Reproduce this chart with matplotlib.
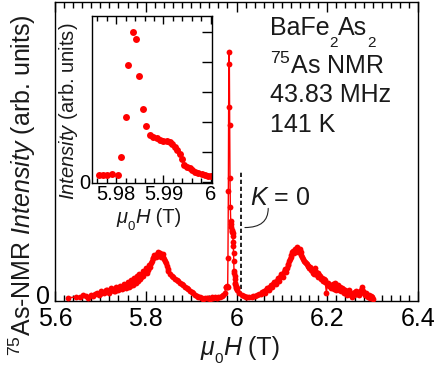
import numpy as np
import matplotlib
matplotlib.use('Agg')
import matplotlib.pyplot as plt
from matplotlib.ticker import MultipleLocator, FixedLocator
from matplotlib.transforms import offset_copy, ScaledTranslation

# ── data ──────────────────────────────────────────────────────────────────────
# wide sweep, low-field side of the central line
field_low = [5.629, 5.647, 5.655, 5.662, 5.668, 5.673, 5.679, 5.684, 5.688, 5.692,
             5.696, 5.699, 5.702, 5.704, 5.707, 5.710, 5.713, 5.715, 5.718, 5.721,
             5.724, 5.726, 5.729, 5.732, 5.734, 5.736, 5.739, 5.741, 5.743, 5.745,
             5.748, 5.750, 5.752, 5.754, 5.756, 5.758, 5.760, 5.762, 5.764, 5.766,
             5.768, 5.770, 5.772, 5.773, 5.775, 5.777, 5.779, 5.780, 5.782, 5.784,
             5.786, 5.787, 5.789, 5.791, 5.793, 5.794, 5.796, 5.798, 5.800, 5.802,
             5.804, 5.806, 5.808, 5.809, 5.811, 5.813, 5.815, 5.817, 5.819, 5.820,
             5.822, 5.824, 5.826, 5.828, 5.830, 5.831, 5.833, 5.835, 5.837, 5.839,
             5.841, 5.842, 5.844, 5.846, 5.848, 5.850, 5.853, 5.857, 5.861, 5.865,
             5.868, 5.872, 5.875, 5.879, 5.883, 5.887, 5.890, 5.894, 5.897, 5.901,
             5.905, 5.909, 5.912, 5.916, 5.919, 5.923, 5.927, 5.931, 5.934, 5.938,
             5.941, 5.945, 5.949, 5.953, 5.956, 5.960, 5.963, 5.967, 5.971, 5.974]
intensity_low = [0.000, 0.004, 0.003, 0.012, 0.006, 0.000, 0.010, 0.008, 0.016, 0.020,
                 0.012, 0.015, 0.026, 0.024, 0.018, 0.022, 0.032, 0.030, 0.021, 0.026,
                 0.038, 0.036, 0.027, 0.029, 0.045, 0.040, 0.030, 0.034, 0.050, 0.046,
                 0.035, 0.038, 0.056, 0.050, 0.040, 0.044, 0.064, 0.058, 0.046, 0.050,
                 0.072, 0.066, 0.052, 0.058, 0.082, 0.075, 0.062, 0.090, 0.070, 0.082,
                 0.098, 0.076, 0.085, 0.095, 0.110, 0.088, 0.100, 0.108, 0.120, 0.100,
                 0.112, 0.118, 0.135, 0.125, 0.142, 0.150, 0.160, 0.163, 0.176, 0.172,
                 0.168, 0.178, 0.186, 0.170, 0.176, 0.182, 0.168, 0.175, 0.178, 0.166,
                 0.158, 0.150, 0.140, 0.128, 0.118, 0.110, 0.098, 0.090, 0.084, 0.078,
                 0.072, 0.068, 0.062, 0.056, 0.052, 0.046, 0.040, 0.034, 0.029, 0.024,
                 0.018, 0.013, 0.008, 0.005, 0.002, 0.000, -0.003, 0.001, -0.002, 0.000,
                 -0.003, 0.002, -0.002, 0.003, 0.001, 0.004, 0.005, 0.008, 0.012, 0.020]

# fine sweep around the central line (also shown in the inset)
field_fine = [5.9763, 5.9773, 5.9780, 5.9791, 5.9805, 5.9811, 5.9820, 5.9826, 5.9835,
              5.9842, 5.9849, 5.9856, 5.9864, 5.9872, 5.9879, 5.9886, 5.9893, 5.9900,
              5.9907, 5.9914, 5.9919, 5.9925, 5.9928, 5.9934, 5.9939, 5.9944, 5.9950,
              5.9956, 5.9961, 5.9967, 5.9974, 5.9981, 5.9988, 5.9995, 6.0000]
intensity_fine = [0.044, 0.044, 0.046, 0.048, 0.044, 0.162, 0.433, 0.778, 1.000,
                  0.951, 0.704, 0.487, 0.369, 0.311, 0.300, 0.289, 0.278, 0.273,
                  0.269, 0.264, 0.251, 0.229, 0.211, 0.184, 0.149, 0.111, 0.100,
                  0.089, 0.078, 0.062, 0.056, 0.049, 0.044, 0.040, 0.038]

# wide sweep, high-field side
field_high = [6.0016, 6.006, 6.011, 6.016, 6.020, 6.024, 6.028, 6.033, 6.037, 6.041,
              6.045, 6.049, 6.053, 6.057, 6.061, 6.063, 6.065, 6.067, 6.069, 6.071,
              6.073, 6.075, 6.077, 6.079, 6.081, 6.083, 6.085, 6.087, 6.089, 6.091,
              6.092, 6.094, 6.096, 6.098, 6.100, 6.102, 6.104, 6.106, 6.107, 6.109,
              6.111, 6.113, 6.114, 6.116, 6.118, 6.120, 6.121, 6.123, 6.125, 6.127,
              6.129, 6.131, 6.132, 6.134, 6.136, 6.138, 6.140, 6.141, 6.143, 6.145,
              6.147, 6.149, 6.151, 6.153, 6.155, 6.157, 6.158, 6.160, 6.162, 6.164,
              6.166, 6.168, 6.169, 6.171, 6.173, 6.175, 6.177, 6.179, 6.180, 6.182,
              6.184, 6.186, 6.188, 6.190, 6.192, 6.194, 6.195, 6.198, 6.200, 6.202,
              6.204, 6.206, 6.208, 6.210, 6.213, 6.215, 6.217, 6.220, 6.222, 6.224,
              6.226, 6.228, 6.230, 6.232, 6.235, 6.237, 6.239, 6.241, 6.243, 6.246,
              6.248, 6.250, 6.252, 6.254, 6.257, 6.259, 6.261, 6.264, 6.266, 6.268,
              6.270, 6.272, 6.274, 6.276, 6.279, 6.281, 6.283, 6.285, 6.287, 6.290,
              6.292, 6.294, 6.296, 6.298, 6.301]
intensity_high = [0.033, 0.019, 0.012, 0.006, 0.004, 0.002, 0.004, 0.005, 0.007, 0.009,
                  0.011, 0.014, 0.017, 0.022, 0.027, 0.020, 0.033, 0.040, 0.038, 0.030,
                  0.043, 0.052, 0.050, 0.042, 0.055, 0.066, 0.063, 0.055, 0.070, 0.082,
                  0.078, 0.070, 0.084, 0.098, 0.094, 0.086, 0.104, 0.118, 0.113, 0.105,
                  0.121, 0.132, 0.138, 0.150, 0.158, 0.168, 0.176, 0.185, 0.190, 0.182,
                  0.200, 0.192, 0.196, 0.205, 0.187, 0.193, 0.198, 0.185, 0.176, 0.166,
                  0.158, 0.150, 0.146, 0.140, 0.137, 0.128, 0.130, 0.120, 0.124, 0.112,
                  0.114, 0.100, 0.106, 0.098, 0.120, 0.104, 0.094, 0.086, 0.100, 0.092,
                  0.088, 0.078, 0.082, 0.070, 0.076, 0.066, 0.072, 0.019, 0.058, 0.062,
                  0.048, 0.052, 0.040, 0.046, 0.055, 0.036, 0.060, 0.033, 0.045, 0.053,
                  0.030, 0.044, 0.028, 0.039, 0.035, 0.020, 0.030, 0.024, 0.012, 0.022,
                  0.030, 0.015, 0.010, 0.005, 0.019, 0.012, 0.024, 0.026, 0.015, 0.022,
                  0.010, 0.019, 0.030, 0.046, 0.026, 0.018, 0.012, 0.020, 0.008, 0.005,
                  0.012, 0.000, 0.008, 0.005, -0.004]

K_ZERO_FIELD = 6.0108   # 43.83 MHz / 75As gamma

RED = '#FF0000'
INK = '#1A1A1A'

plt.rcParams.update({
    'font.family': 'Liberation Sans',
    'mathtext.fontset': 'custom',
    'mathtext.rm': 'Liberation Sans',
    'mathtext.it': 'Liberation Sans:italic',
    'mathtext.bf': 'Liberation Sans:bold',
    'font.size': 18,
    'axes.linewidth': 1.0,
    'text.color': INK,
})

fig = plt.figure(figsize=(4.36, 3.65), dpi=100)
renderer = fig.canvas.get_renderer()


def rich_text(ax, x, y, pieces, ha='left'):
    """Draw (text, size, dy_pt, style) pieces side by side, baseline at (x, y) in axes coords.
    Lets subscripts sit lower than mathtext puts them."""
    widths = []
    for s, size, dy, style in pieces:
        t = ax.text(0, 0, s, fontsize=size, style=style, transform=ax.transAxes)
        widths.append(t.get_window_extent(renderer).width)
        t.remove()
    off = -sum(widths) / 2 if ha == 'center' else 0.0
    for (s, size, dy, style), w in zip(pieces, widths):
        tr = offset_copy(ax.transAxes, fig=fig, x=off * 72 / fig.dpi, y=dy, units='points')
        ax.text(x, y, s, fontsize=size, style=style, transform=tr,
                ha='left', va='baseline')
        off += w


ax = fig.add_axes([0.126, 0.174, 0.833, 0.8205])

field_all = field_low + field_fine + field_high
intensity_all = intensity_low + intensity_fine + intensity_high
ax.plot(field_all, intensity_all, '-o', color=RED, lw=1.0, ms=4.2, mew=0, zorder=3)

ax.plot([K_ZERO_FIELD, K_ZERO_FIELD], [-0.02, 0.52], color='#222222', lw=1.4,
        ls=(0, (2.2, 1.4)), zorder=2)
ax.text(6.0295, 0.378, r'$K$ = 0', fontsize=18, ha='left', va='baseline')
ax.annotate('', xy=(6.0185, 0.286), xytext=(6.0698, 0.364),
            arrowprops=dict(arrowstyle='-', lw=0.8, color='#222222',
                            connectionstyle='angle3,angleA=90,angleB=0',
                            shrinkA=0, shrinkB=0))

ax.set_xlim(5.6, 6.4)
ax.set_ylim(-0.015, 1.204)
ax.set_xticks([5.6, 5.8, 6.0, 6.2, 6.4])
ax.set_xticklabels(['5.6', '5.8', '6', '6.2', '6.4'])
ax.xaxis.set_minor_locator(MultipleLocator(0.02))
ax.set_yticks([0])
ax.set_yticklabels(['0'])
ax.tick_params(axis='x', which='both', direction='in', top=True, labelsize=18, pad=4)
ax.tick_params(axis='x', which='major', length=7, width=1)
ax.tick_params(axis='x', which='minor', length=4.5, width=1)
ax.tick_params(axis='y', length=0, labelsize=18, pad=3.5)
# the "0" sits a touch above the baseline in the reference
for lab in ax.get_yticklabels():
    lab.set_transform(lab.get_transform() + ScaledTranslation(0, 3 / 100, fig.dpi_scale_trans))

ax.text(-0.091, 0.389, r'$^{75}$As-NMR $\it{Intensity}$ (arb. units)',
        transform=ax.transAxes, rotation=90, ha='center', va='center', fontsize=18)
rich_text(ax, 0.51, -0.179, [('μ', 18, 0, 'italic'), ('0', 11, -5.8, 'normal'),
                             ('H', 18, 0, 'italic'), (' (T)', 18, 0, 'normal')],
          ha='center')

rich_text(ax, 0.592, 0.890, [('BaFe', 18, 0, 'normal'), ('2', 11, -9.0, 'normal'),
                             ('As', 18, 0, 'normal'), ('2', 11, -9.0, 'normal')])
info_lines = [r'$^{75}$As NMR', '43.83 MHz', '141 K']
info_baselines = [0.760, 0.666, 0.566]
for line, yb in zip(info_lines, info_baselines):
    ax.text(0.592, yb, line, transform=ax.transAxes,
            ha='left', va='baseline', fontsize=18)

# inset: zoom on the central line
ins = fig.add_axes([0.211, 0.4995, 0.2745, 0.4567])
ins.plot(field_fine, intensity_fine, 'o', color=RED, ms=5.0, mew=0)
ins.set_xlim(5.9749, 6.0002)
ins.set_ylim(-0.007, 1.104)
ins.xaxis.set_major_locator(FixedLocator([5.98, 5.99, 6.0]))
ins.xaxis.set_minor_locator(MultipleLocator(0.002))
ins.set_xticklabels(['5.98', '5.99', '6'])
ins.yaxis.set_major_locator(FixedLocator([0, 0.2, 0.4, 0.6, 0.8, 1.0]))
ins.set_yticklabels(['0', '', '', '', '', ''])
ins.tick_params(axis='x', which='both', direction='in', top=True, labelsize=14.5, pad=1.5)
ins.tick_params(axis='x', which='major', length=6, width=1)
ins.tick_params(axis='x', which='minor', length=3.5, width=1)
ins.tick_params(axis='y', which='both', direction='in', left=False, right=True,
                length=7, width=1, labelsize=14.5, pad=1.5)
ins.text(-0.195, 0.43, r'$\it{Intensity}$ (arb. units)', transform=ins.transAxes,
         rotation=90, ha='center', va='center', fontsize=14.5)
rich_text(ins, 0.476, -0.242, [('μ', 14.5, 0, 'italic'), ('0', 9.5, -5.0, 'normal'),
                               ('H', 14.5, 0, 'italic'), (' (T)', 14.5, 0, 'normal')],
          ha='center')

fig.savefig('out.png', dpi=100)
